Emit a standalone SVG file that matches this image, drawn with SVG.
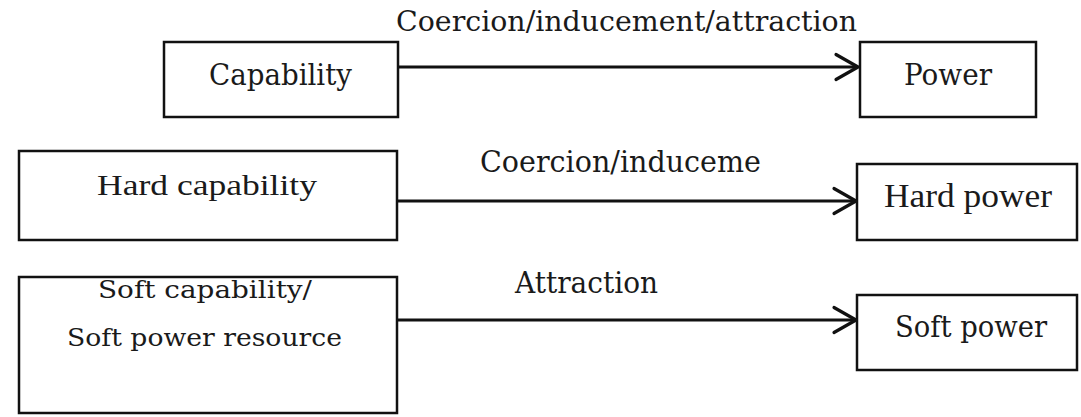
<svg xmlns="http://www.w3.org/2000/svg" width="1081" height="417" viewBox="0 0 1081 417">
<style>
.box{fill:#fff;stroke:#111;stroke-width:2.5}
.t{font-family:"Liberation Serif","Times New Roman",serif;font-size:33px;fill:#1a1a1a;text-anchor:start}
.g{font-family:"DejaVu Serif","Liberation Serif",serif}
.s30{font-size:30px}
.s29{font-size:29px}
.s27{font-size:27px}
.s25{font-size:25px}
.edge{stroke:#111;stroke-width:3;fill:none}
</style>
<defs>
<marker id="arr" markerUnits="userSpaceOnUse" markerWidth="30" markerHeight="32" viewBox="-3 -3 30 32" refX="22" refY="12.5" orient="auto">
<path d="M0,0 L22,12.5 L0,25" fill="none" stroke="#111" stroke-width="3.2" stroke-linejoin="round" stroke-linecap="round"/>
</marker>
</defs>
<rect width="1081" height="417" fill="#fff"/>
<g id="connectors">
<line class="edge" x1="398" y1="67" x2="858" y2="67" marker-end="url(#arr)"/>
<line class="edge" x1="397" y1="201" x2="856" y2="201" marker-end="url(#arr)"/>
<line class="edge" x1="397" y1="320" x2="856" y2="320" marker-end="url(#arr)"/>
<text class="t g s27" x="396" y="31" textLength="461" lengthAdjust="spacingAndGlyphs">Coercion/inducement/attraction</text>
<text class="t g s29" x="480" y="172" textLength="281" lengthAdjust="spacingAndGlyphs">Coercion/induceme</text>
<text class="t g s29" x="515" y="293" textLength="143" lengthAdjust="spacingAndGlyphs">Attraction</text>
</g>
<g id="capability">
<rect class="box" x="164" y="42" width="234" height="75"/>
<text class="t g s29" x="209" y="85" textLength="143" lengthAdjust="spacingAndGlyphs">Capability</text>
</g>
<g id="power">
<rect class="box" x="860" y="42" width="176" height="75"/>
<text class="t g s30" x="904" y="85" textLength="88" lengthAdjust="spacingAndGlyphs">Power</text>
</g>
<g id="hard-capability">
<rect class="box" x="19" y="151" width="378" height="89"/>
<text class="t s30" x="97" y="195" textLength="220" lengthAdjust="spacingAndGlyphs">Hard capability</text>
</g>
<g id="hard-power">
<rect class="box" x="857" y="164" width="220" height="76"/>
<text class="t" x="884" y="207" textLength="168" lengthAdjust="spacingAndGlyphs">Hard power</text>
</g>
<g id="soft-capability">
<rect class="box" x="19" y="277" width="378" height="136"/>
<text class="t g s25" x="98" y="298" textLength="214" lengthAdjust="spacingAndGlyphs">Soft capability/</text>
<text class="t g s25" x="67" y="346" textLength="275" lengthAdjust="spacingAndGlyphs">Soft power resource</text>
</g>
<g id="soft-power">
<rect class="box" x="857" y="295" width="220" height="75"/>
<text class="t g s30" x="895" y="337" textLength="152" lengthAdjust="spacingAndGlyphs">Soft power</text>
</g>
</svg>
